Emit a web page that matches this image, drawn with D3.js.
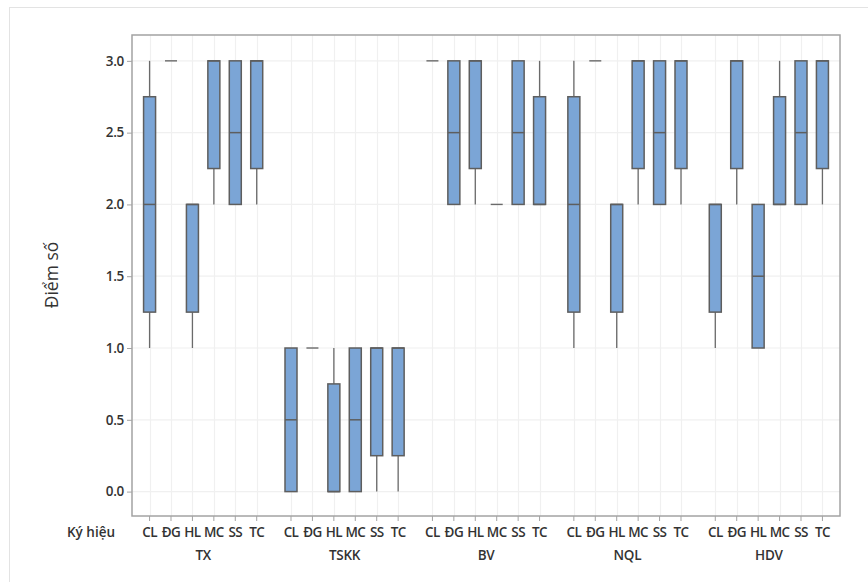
<!DOCTYPE html>
<html><head><meta charset="utf-8">
<script src="https://cdn.jsdelivr.net/npm/d3@7"></script>
<style>body{margin:0;background:#fff;}svg{display:block;font-family:"Open Sans","Noto Sans",sans-serif;}</style>
</head><body><svg id="c" width="868" height="582"></svg>
<script>
const groups = ["TX","TSKK","BV","NQL","HDV"];
const categories = ["CL","ĐG","HL","MC","SS","TC"];
const yTicks = [0,0.5,1,1.5,2,2.5,3];
// per group, per category
const minVals = [
  [1,3,1,2,2,2],
  [0,1,0,0,0,0],
  [3,2,2,2,2,2],
  [1,3,1,2,2,2],
  [1,2,1,2,2,2]];
const q1Vals = [
  [1.25,3,1.25,2.25,2,2.25],
  [0,1,0,0,0.25,0.25],
  [3,2,2.25,2,2,2],
  [1.25,3,1.25,2.25,2,2.25],
  [1.25,2.25,1,2,2,2.25]];
const medVals = [
  [2,3,2,3,2.5,3],
  [0.5,1,0,0.5,1,1],
  [3,2.5,3,2,2.5,2],
  [2,3,2,3,2.5,3],
  [2,3,1.5,2,2.5,3]];
const q3Vals = [
  [2.75,3,2,3,3,3],
  [1,1,0.75,1,1,1],
  [3,3,3,2,3,2.75],
  [2.75,3,2,3,3,3],
  [2,3,2,2.75,3,3]];
const maxVals = [
  [3,3,2,3,3,3],
  [1,1,1,1,1,1],
  [3,3,3,2,3,3],
  [3,3,2,3,3,3],
  [2,3,2,3,3,3]];

const svg = d3.select("#c");
const L=132, R=840, T=35, B=516;
const gapSlots = 1.6, pad = 0.82;
const slot = (g,i)=> g*(categories.length-1+gapSlots)+i;
const lastSlot = slot(groups.length-1, categories.length-1);
const x = d3.scaleLinear().domain([-pad, lastSlot+pad]).range([L,R]);
const y = d3.scaleLinear().domain([-0.17,3.18]).range([B,T]);
const txt = "#333";
const fs = "13.5px";

// outer faint border
svg.append("rect").attr("x",9.5).attr("y",7.5).attr("width",880).attr("height",600)
  .attr("fill","none").attr("stroke","#e3e3e3");

// grid
const grid = svg.append("g");
yTicks.forEach(t=>{
  grid.append("line").attr("x1",L).attr("x2",R).attr("y1",y(t)).attr("y2",y(t))
    .attr("stroke","#f0f0f0").attr("stroke-width",1.2);
});
const items=[];
groups.forEach((g,gi)=>categories.forEach((c,ci)=>items.push({g,gi,c,ci,
  mn:minVals[gi][ci],q1:q1Vals[gi][ci],md:medVals[gi][ci],q3:q3Vals[gi][ci],mx:maxVals[gi][ci]})));
items.forEach(d=>{
  const xx=Math.round(x(slot(d.gi,d.ci)))+0.5;
  grid.append("line").attr("x1",xx).attr("x2",xx).attr("y1",T).attr("y2",B)
    .attr("stroke","#f0f0f0").attr("stroke-width",1.2);
});

// frame
svg.append("rect").attr("x",L).attr("y",T).attr("width",R-L).attr("height",B-T)
  .attr("fill","none").attr("stroke","#a3a3a3").attr("stroke-width",1.5);

// y axis ticks
const yAxis = d3.axisLeft(y).tickValues(yTicks).tickFormat(d3.format(".1f")).tickSize(5).tickPadding(3);
const ya = svg.append("g").attr("transform",`translate(${L},0)`).call(yAxis);
ya.select(".domain").remove();
ya.selectAll(".tick line").attr("stroke","#a3a3a3");
ya.selectAll(".tick text").attr("fill",txt).style("font-size",fs).style("font-weight","600")
  .style("font-family","'Open Sans',sans-serif").style("letter-spacing","-0.3px");

// x ticks
const xa = svg.append("g");
items.forEach(d=>{
  const xx=x(slot(d.gi,d.ci));
  xa.append("line").attr("x1",xx).attr("x2",xx).attr("y1",B).attr("y2",B+5).attr("stroke","#a3a3a3");
  xa.append("text").attr("x",xx).attr("y",537).attr("text-anchor","middle")
    .attr("fill",txt).style("font-size",fs).style("font-weight","600").style("letter-spacing","-0.6px").text(d.c);
});
groups.forEach((g,gi)=>{
  const xm=(x(slot(gi,0))+x(slot(gi,categories.length-1)))/2;
  xa.append("text").attr("x",xm).attr("y",560).attr("text-anchor","middle")
    .attr("fill",txt).style("font-size",fs).style("font-weight","600").style("letter-spacing","-0.3px").text(g);
});
svg.append("text").attr("x",115).attr("y",537).attr("text-anchor","end")
  .attr("fill",txt).style("font-size",fs).style("font-weight","600").text("Ký hiệu");
svg.append("text").attr("transform","translate(58,275) rotate(-90)").attr("text-anchor","middle")
  .attr("fill",txt).style("font-size","17.5px").text("Điểm số");

// boxes
const bw=12, stroke="#5e5e5e";
const bx = svg.append("g");
items.forEach(d=>{
  const cx=x(slot(d.gi,d.ci));
  if(d.mx>d.q3) bx.append("line").attr("x1",cx).attr("x2",cx).attr("y1",y(d.q3)).attr("y2",y(d.mx)).attr("stroke","#6a6a6a").attr("stroke-width",1.3);
  if(d.mn<d.q1) bx.append("line").attr("x1",cx).attr("x2",cx).attr("y1",y(d.q1)).attr("y2",y(d.mn)).attr("stroke","#6a6a6a").attr("stroke-width",1.3);
  if(d.q3>d.q1){
    bx.append("rect").attr("x",cx-bw/2).attr("y",y(d.q3)).attr("width",bw).attr("height",y(d.q1)-y(d.q3))
      .attr("fill","#7ba5d6").attr("stroke",stroke).attr("stroke-width",1.5);
    bx.append("line").attr("x1",cx-bw/2).attr("x2",cx+bw/2).attr("y1",y(d.md)).attr("y2",y(d.md)).attr("stroke",stroke).attr("stroke-width",1.5);
  } else {
    bx.append("line").attr("x1",cx-bw/2).attr("x2",cx+bw/2).attr("y1",y(d.md)).attr("y2",y(d.md)).attr("stroke","#6a6a6a").attr("stroke-width",1.4);
  }
});
</script></body></html>
